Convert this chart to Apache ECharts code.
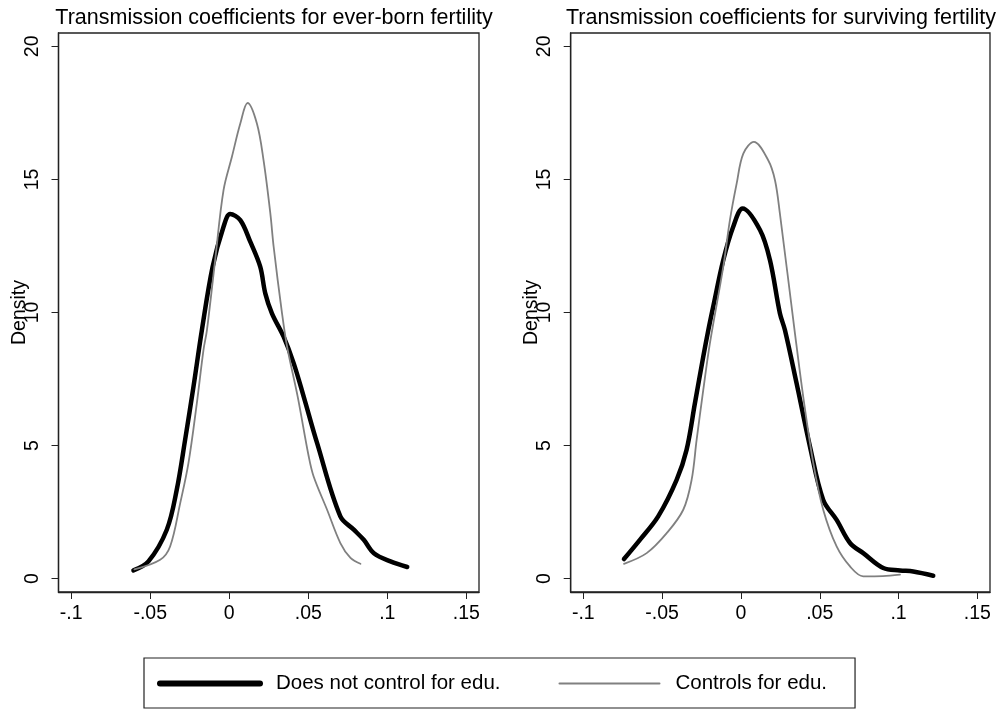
<!DOCTYPE html>
<html>
<head>
<meta charset="utf-8">
<script src="https://cdn.jsdelivr.net/npm/echarts@6/dist/echarts.min.js"></script>
<style>
html,body{margin:0;padding:0;background:#fff;}
#chart{width:1007px;height:709px;}
</style>
</head>
<body>
<div id="chart"></div>
<script>
// Panel titles
var panelTitles = ['Transmission coefficients for ever-born fertility', 'Transmission coefficients for surviving fertility'];
var seriesNames = ['Does not control for edu.', 'Controls for edu.'];
var yAxisName = 'Density';

// Tick values / labels
var xTickValues = [-0.1, -0.05, 0, 0.05, 0.1, 0.15];
var xTickLabels = ['-.1', '-.05', '0', '.05', '.1', '.15'];
var yTickValues = [0, 5, 10, 15, 20];
var yTickLabels = ['0', '5', '10', '15', '20'];

// Left panel: ever-born fertility
var everBornNoEdu = [
  [-0.0606,0.31],[-0.0511,0.65],[-0.0395,1.84],[-0.0332,3.34],[-0.0279,5.22],
  [-0.0226,7.22],[-0.0173,9.34],[-0.0105,11.72],[-0.0036,13.22],[0.0006,13.70],
  [0.0070,13.47],[0.0133,12.66],[0.0196,11.72],[0.0228,10.72],[0.0270,9.97],
  [0.0344,9.09],[0.0408,8.09],[0.0471,6.84],[0.0556,5.09],[0.0703,2.34],
  [0.0788,1.84],[0.0851,1.46],[0.0915,0.96],[0.1020,0.65],[0.1126,0.44]
];
var everBornEdu = [
  [-0.0600,0.35],[-0.0437,0.71],[-0.0374,1.21],[-0.0310,2.84],[-0.0258,4.34],
  [-0.0205,6.59],[-0.0163,8.59],[-0.0141,9.34],[-0.0089,11.97],[-0.0036,14.60],
  [0.0017,15.85],[0.0070,17.10],[0.0116,17.87],[0.0175,17.10],[0.0217,15.72],
  [0.0260,13.72],[0.0281,12.47],[0.0334,9.97],[0.0366,8.72],[0.0433,6.84],
  [0.0503,4.59],[0.0534,3.84],[0.0619,2.59],[0.0703,1.34],[0.0767,0.78],[0.0830,0.56]
];

// Right panel: surviving fertility
var survivingNoEdu = [
  [-0.0742,0.74],[-0.0641,1.46],[-0.0525,2.34],[-0.0408,3.71],[-0.0345,4.84],
  [-0.0292,6.59],[-0.0239,8.34],[-0.0207,9.34],[-0.0176,10.22],[-0.0112,11.97],
  [-0.0049,13.22],[0.0011,13.91],[0.0121,13.10],[0.0184,11.97],[0.0247,9.97],
  [0.0279,9.34],[0.0353,7.34],[0.0438,4.96],[0.0522,2.96],[0.0607,2.21],
  [0.0692,1.34],[0.0776,0.96],[0.0903,0.40],[0.1009,0.31],[0.1093,0.27],[0.1220,0.11]
];
var survivingEdu = [
  [-0.0742,0.56],[-0.0598,0.96],[-0.0471,1.71],[-0.0366,2.59],[-0.0313,3.71],
  [-0.0281,5.22],[-0.0239,7.09],[-0.0197,8.84],[-0.0112,11.72],
  [-0.0070,13.47],[-0.0027,14.85],[0.0015,15.97],[0.0082,16.41],[0.0173,15.72],
  [0.0216,14.97],[0.0247,13.72],[0.0340,9.34],
  [0.0395,6.84],[0.0459,4.34],[0.0522,2.59],[0.0607,1.21],[0.0692,0.46],
  [0.0776,0.09],[0.0900,0.10],[0.1009,0.15]
];

var FONT = '"Liberation Sans", Arial, Helvetica, sans-serif';

function labelFor(values, labels) {
  return function (v) {
    for (var i = 0; i < values.length; i++) {
      if (Math.abs(values[i] - v) < 1e-9) return labels[i];
    }
    return '';
  };
}

function xAxisCfg(gi) {
  return {
    type: 'value', gridIndex: gi, min: -0.108, max: 0.158,
    axisLine: { show: true, onZero: false, lineStyle: { color: '#222', width: 1.3 } },
    axisTick: { show: true, customValues: xTickValues, length: 7, lineStyle: { color: '#222', width: 1 } },
    axisLabel: { customValues: xTickValues, formatter: labelFor(xTickValues, xTickLabels),
      color: '#000', fontSize: 19.5, fontFamily: FONT, margin: 12 },
    splitLine: { show: false }
  };
}
function yAxisCfg(gi) {
  return {
    type: 'value', gridIndex: gi, min: -0.5, max: 20.5,
    name: yAxisName, nameLocation: 'middle', nameGap: 29, nameRotate: 90,
    nameMoveOverlap: false,
    nameTextStyle: { color: '#000', fontSize: 19.5, fontFamily: FONT },
    axisLine: { show: true, onZero: false, lineStyle: { color: '#222', width: 1.3 } },
    axisTick: { show: true, customValues: yTickValues, length: 7, lineStyle: { color: '#222', width: 1 } },
    axisLabel: { customValues: yTickValues, formatter: labelFor(yTickValues, yTickLabels),
      rotate: 90, color: '#000', fontSize: 19.5, fontFamily: FONT, margin: 16 },
    splitLine: { show: false }
  };
}

function lineSeries(name, data, gi, color, width) {
  return {
    name: name, type: 'line', xAxisIndex: gi, yAxisIndex: gi, data: data,
    smooth: 0.35, symbol: 'none', showSymbol: false,
    lineStyle: { color: color, width: width, cap: 'round', join: 'round' },
    itemStyle: { color: color }
  };
}

var chart = echarts.init(document.getElementById('chart'), null, { renderer: 'canvas' });
chart.setOption({
  backgroundColor: '#fff',
  animation: false,
  title: [
    { text: panelTitles[0], left: 269, top: 2, textAlign: 'center',
      textStyle: { fontSize: 21.5, fontWeight: 'normal', color: '#000', fontFamily: FONT } },
    { text: panelTitles[1], left: 776, top: 2, textAlign: 'center',
      textStyle: { fontSize: 21.5, fontWeight: 'normal', color: '#000', fontFamily: FONT } }
  ],
  grid: [
    { left: 58.5, top: 33, width: 420.5, height: 559, show: true, borderColor: '#222', borderWidth: 1.3, backgroundColor: '#fff', containLabel: false },
    { left: 570.7, top: 33, width: 419.3, height: 559, show: true, borderColor: '#222', borderWidth: 1.3, backgroundColor: '#fff', containLabel: false }
  ],
  xAxis: [xAxisCfg(0), xAxisCfg(1)],
  yAxis: [yAxisCfg(0), yAxisCfg(1)],
  legend: {
    data: [
      { name: seriesNames[0], lineStyle: { width: 6, color: '#000' } },
      { name: seriesNames[1], lineStyle: { width: 2, color: '#808080' } }
    ],
    left: 144, top: 658, orient: 'horizontal',
    itemWidth: 100, itemHeight: 14, itemGap: 58,
    padding: [15, 28, 14, 13],
    borderColor: '#222', borderWidth: 1.2, backgroundColor: '#fff',
    itemStyle: { opacity: 0 },
    textStyle: { color: '#000', fontSize: 20.5, fontFamily: FONT, padding: [0, 0, 0, 11] },
    selectedMode: false
  },
  series: [
    lineSeries(seriesNames[0], everBornNoEdu, 0, '#000000', 4.5),
    lineSeries(seriesNames[1], everBornEdu, 0, '#808080', 1.8),
    lineSeries(seriesNames[0], survivingNoEdu, 1, '#000000', 4.5),
    lineSeries(seriesNames[1], survivingEdu, 1, '#808080', 1.8)
  ]
});
</script>
</body>
</html>
